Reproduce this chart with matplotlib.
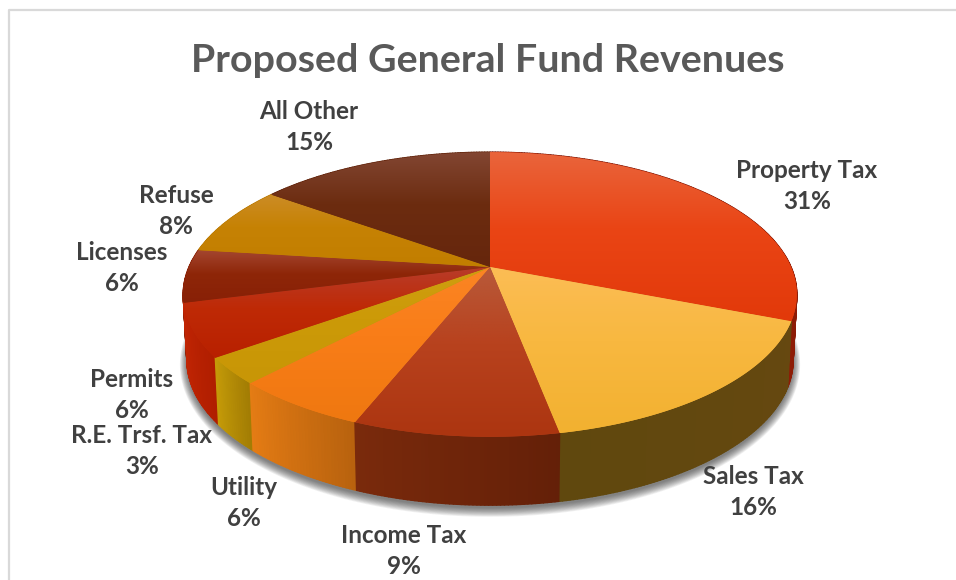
import numpy as np
import matplotlib
matplotlib.use('Agg')
from matplotlib import pyplot as plt
from matplotlib.collections import PolyCollection
from matplotlib.colors import to_rgb
from matplotlib.patches import Polygon

title = 'Proposed General Fund Revenues'
names = ['Property Tax', 'Sales Tax', 'Income Tax', 'Utility', 'R.E. Trsf. Tax',
         'Permits', 'Licenses', 'Refuse', 'All Other']
shares = [31, 16, 9, 6, 3, 6, 6, 8, 15]

# top face colours per slice: light edge, middle, near edge
top_colors = [('#e9653c', '#ea4515', '#e2390a'),
              ('#fcbd55', '#f8b840', '#f2b130'),
              ('#b85a3a', '#b8421e', '#ac3510'),
              ('#fb8524', '#f97d18', '#ef7810'),
              ('#cf9e10', '#cc9a08', '#c89606'),
              ('#b83c2a', '#bf2a06', '#b82000'),
              ('#a44630', '#8e2608', '#882006'),
              ('#cc8c26', '#c68204', '#c27e00'),
              ('#824632', '#6c2c10', '#66260c')]
# side wall colours per slice, following the direction of the values
wall_colors = [('#7a1404', '#8e1c06'),
               ('#664810', '#60480e'),
               ('#642008', '#7a2a0c'),
               ('#b8620e', '#e57c14'),
               ('#a27c04', '#c69c08'),
               ('#b01e00', '#c42604'),
               ('#8a2006', '#8a2006'),
               ('#b87800', '#b87800'),
               ('#5e2008', '#5e2008')]

label_xy = [(807, 186), (753, 492), (404, 551), (244, 503), (142, 451),
            (132, 395), (122, 268), (176, 211), (309, 127)]

# perspective disc
CX, CY = 490, 267
A, B, K = 301, 137, 0.193
WALL_DROP = 65


def project(frac, radius=1.0, drop=0.0, scale_x=1.0, scale_y=1.0):
    ang = 2 * np.pi * np.asarray(frac)
    x = radius * np.sin(ang)
    y = radius * np.cos(ang)
    d = 1 + K * y
    return CX + scale_x * A * x / d, CY + drop - scale_y * B * y / d


def bottom(frac):
    return project(frac, drop=WALL_DROP, scale_x=0.988, scale_y=1.02)


def gradient(stops, n=256):
    t = np.linspace(0, 1, n)
    rgb = np.array([to_rgb(c) for c in stops])
    pos = [0, 0.45, 1]
    return np.stack([np.interp(t, pos, rgb[:, i]) for i in range(3)], axis=1)[:, None, :]


fig = plt.figure(figsize=(9.56, 5.8), dpi=100, facecolor='white')
ax = fig.add_axes([0, 0, 1, 1])
ax.set_xlim(0, 956)
ax.set_ylim(580, 0)
ax.axis('off')

plt.rcParams['font.family'] = ['Lato', 'DejaVu Sans']

# outer frame, left and top only
ax.plot([9.5, 9.5, 956], [580, 10, 10], color='#d9d9d9', lw=1.6, zorder=1)

# soft shadow under the disc
ring = np.linspace(0, 1, 361)
for grow in np.linspace(7, 0, 12):
    bx, by = bottom(ring)
    px = CX + (bx - CX) * (1 + grow / 302)
    py = CY + WALL_DROP + 3 + (by - CY - WALL_DROP) * (1 + grow / 140)
    ax.fill(px, py, color='#303030', alpha=0.07, lw=0, zorder=2)

fracs = np.cumsum([0] + shares) / sum(shares)

# side walls, painted back to front
strips = []
for i in range(len(shares)):
    ts = np.linspace(fracs[i], fracs[i + 1], max(2, shares[i] * 6))
    c0, c1 = [np.array(to_rgb(c)) for c in wall_colors[i]]
    for j in range(len(ts) - 1):
        x0, y0 = project(ts[j])
        x1, y1 = project(ts[j + 1])
        x2, y2 = bottom(ts[j + 1])
        x3, y3 = bottom(ts[j])
        mix = (j + 0.5) / (len(ts) - 1)
        strips.append(((y0 + y1) / 2, [(x0, y0), (x1, y1), (x2, y2), (x3, y3)],
                       c0 + (c1 - c0) * mix))
strips.sort(key=lambda s: s[0])
ax.add_collection(PolyCollection([s[1] for s in strips], facecolors=[s[2] for s in strips],
                                 edgecolors='face', linewidths=1.0, zorder=3))

# top face, one vertical gradient per slice
for i in range(len(shares)):
    ts = np.linspace(fracs[i], fracs[i + 1], max(2, shares[i] * 6))
    ax_, ay_ = project(ts)
    pts = np.column_stack([np.r_[CX, ax_], np.r_[CY, ay_]])
    base = Polygon(pts, closed=True, facecolor=top_colors[i][1], edgecolor='none', zorder=4)
    ax.add_patch(base)
    im = ax.imshow(gradient(top_colors[i]), aspect='auto', zorder=5, interpolation='bilinear',
                   extent=(pts[:, 0].min(), pts[:, 0].max(), pts[:, 1].max(), pts[:, 1].min()))
    clip = Polygon(pts, closed=True, transform=ax.transData)
    im.set_clip_path(clip)

ax.set_xlim(0, 956)
ax.set_ylim(580, 0)

ax.text(488, 61, title, ha='center', va='center', fontsize=28.4, fontweight='bold',
        color='#595959', zorder=6)

for name, share, (lx, ly) in zip(names, shares, label_xy):
    ax.text(lx, ly, f'{name}\n{share}%', ha='center', va='center', fontsize=17.5,
            fontweight='bold', color='#404040', linespacing=1.37, zorder=6)

fig.savefig('out.png', dpi=100)
